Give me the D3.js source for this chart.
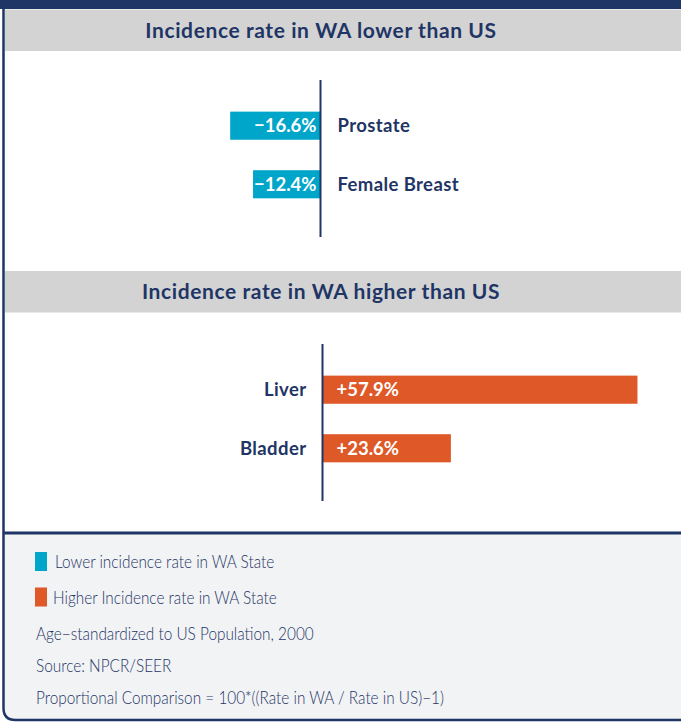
<!DOCTYPE html>
<html>
<head>
<meta charset="utf-8">
<script src="https://cdn.jsdelivr.net/npm/d3@7"></script>
<style>
  body { margin: 0; background: #fff; }
  svg { display: block; font-family: Lato, "Open Sans", sans-serif; }
</style>
</head>
<body>
<svg id="chart" width="681" height="722"></svg>
<script>
// lower than US
var lowerCats = ["Prostate", "Female Breast"];
var lowerVals = [-16.6, -12.4];
// higher than US
var higherCats = ["Liver", "Bladder"];
var higherVals = [57.9, 23.6];

var titles = ["Incidence rate in WA lower than US", "Incidence rate in WA higher than US"];
var legendLabels = ["Lower incidence rate in WA State", "Higher Incidence rate in WA State"];
var notes = ["Age\u2212standardized to US Population, 2000",
             "Source: NPCR/SEER",
             "Proportional Comparison = 100*((Rate in WA / Rate in US)\u22121)"];

var navy = "#1f3565";
var cyan = "#00a6c9";
var orange = "#de5828";

var svg = d3.select("#chart");
var W = 681;

// frame
svg.append("rect").attr("x", 0).attr("y", 0).attr("width", W).attr("height", 9).attr("fill", navy);
svg.append("rect").attr("x", 5).attr("y", 533).attr("width", W).attr("height", 187).attr("fill", "#f2f3f5");
svg.append("path")
   .attr("d", "M3.5,0 V708 Q3.5,720 15.5,720 H681")
   .attr("fill", "none").attr("stroke", navy).attr("stroke-width", 2.5);
svg.append("line").attr("x1", 3).attr("x2", W).attr("y1", 533).attr("y2", 533)
   .attr("stroke", navy).attr("stroke-width", 3);

// headers
var headerY = [9.5, 271];
headerY.forEach(function(y, i) {
    svg.append("rect").attr("x", 5).attr("y", y).attr("width", W).attr("height", 41.5).attr("fill", "#d3d3d3");
    svg.append("text").attr("x", 321).attr("y", y + 28)
       .attr("text-anchor", "middle").attr("fill", navy)
       .attr("font-size", 21).attr("font-weight", "bold")
       .attr("letter-spacing", 0.6)
       .text(titles[i]);
});

// px per percent, same for both panels
var pxPer = 5.44;

function panel(cats, vals, axisX, top, bottom, color) {
    var xScale = d3.scaleLinear()
                   .domain([0, 1])
                   .range([axisX, axisX + pxPer]);
    var yScale = d3.scaleBand()
                   .domain(cats)
                   .range([top, bottom])
                   .paddingInner(0.52)
                   .paddingOuter(0.6)
                   .align(0.45);

    var g = svg.append("g");
    var records = cats.map(function(c, i) { return {key: c, value: vals[i]}; });

    g.selectAll("rect.bar")
     .data(records)
     .enter()
     .append("rect")
     .attr("class", "bar")
     .attr("x", function(d) { return Math.min(xScale(0), xScale(d.value)); })
     .attr("y", function(d) { return yScale(d.key); })
     .attr("width", function(d) { return Math.abs(xScale(d.value) - xScale(0)); })
     .attr("height", yScale.bandwidth())
     .attr("fill", color);

    g.append("line")
     .attr("x1", axisX).attr("x2", axisX)
     .attr("y1", top).attr("y2", bottom)
     .attr("stroke", navy).attr("stroke-width", 2);

    // values inside bars
    g.selectAll("text.val")
     .data(records)
     .enter()
     .append("text")
     .attr("class", "val")
     .attr("x", function(d) { return d.value < 0 ? xScale(0) - 4 : xScale(0) + 14; })
     .attr("y", function(d) { return yScale(d.key) + yScale.bandwidth() / 2 + 6.5; })
     .attr("text-anchor", function(d) { return d.value < 0 ? "end" : "start"; })
     .attr("fill", "#fff").attr("font-size", 18.5).attr("font-weight", "bold")
     .text(function(d) {
         return (d.value < 0 ? "\u2212" + Math.abs(d.value).toFixed(1) : "+" + d.value.toFixed(1)) + "%";
     });

    // category names on the other side
    g.selectAll("text.cat")
     .data(records)
     .enter()
     .append("text")
     .attr("class", "cat")
     .attr("x", function(d) { return d.value < 0 ? xScale(0) + 17 : xScale(0) - 16; })
     .attr("y", function(d) { return yScale(d.key) + yScale.bandwidth() / 2 + 6.5; })
     .attr("text-anchor", function(d) { return d.value < 0 ? "start" : "end"; })
     .attr("fill", navy).attr("font-size", 18.5).attr("font-weight", "bold")
     .attr("letter-spacing", 0.4)
     .text(function(d) { return d.key; });
}

panel(lowerCats, lowerVals, 320.5, 80, 237, cyan);
panel(higherCats, higherVals, 322.5, 344, 501, orange);

// legend + notes, light narrow text
var legendColors = [cyan, orange];
legendLabels.forEach(function(t, i) {
    var y = 552 + i * 35.5;
    svg.append("rect").attr("x", 35).attr("y", y).attr("width", 12).attr("height", 19).attr("fill", legendColors[i]);
    svg.append("text")
       .attr("transform", "translate(" + (55 - i * 2) + "," + (y + 16) + ") scale(0.83,1)")
       .attr("fill", navy).attr("font-size", 18.5).attr("font-weight", 300)
       .text(t);
});
notes.forEach(function(t, i) {
    svg.append("text")
       .attr("transform", "translate(36," + (640 + i * 32) + ") scale(0.83,1)")
       .attr("fill", navy).attr("font-size", 18.5).attr("font-weight", 300)
       .text(t);
});
</script>
</body>
</html>
